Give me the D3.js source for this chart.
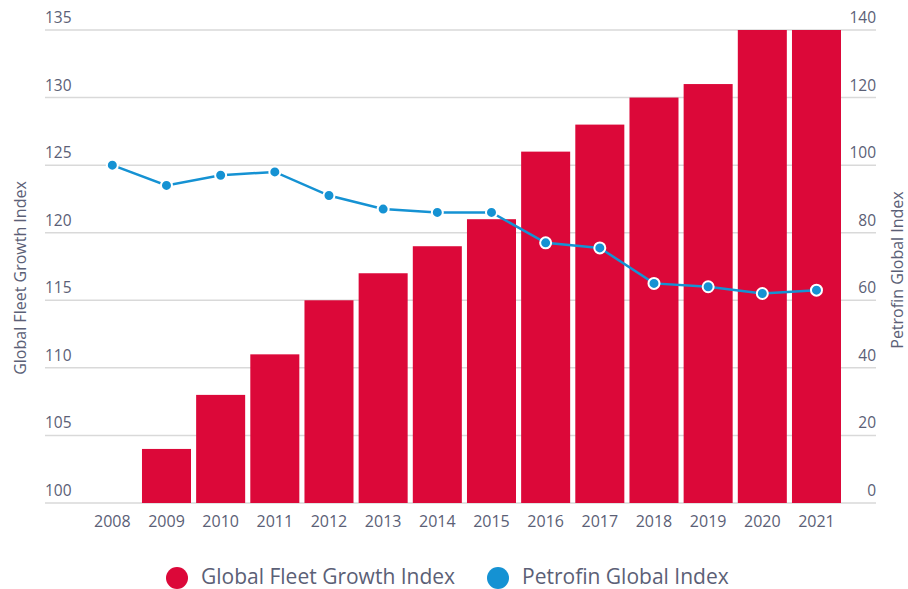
<!DOCTYPE html>
<html>
<head>
<meta charset="utf-8">
<script src="https://cdn.jsdelivr.net/npm/d3@7"></script>
<style>
  body { margin: 0; background: #fff; }
  text { font-family: "Open Sans", "Noto Sans", sans-serif; fill: #5b6076; }
</style>
</head>
<body>
<svg id="chart" width="908" height="589"></svg>
<script>
let years = ["2008","2009","2010","2011","2012","2013","2014","2015","2016","2017","2018","2019","2020","2021"]
let fleetGrowth = [100, 104, 108, 111, 115, 117, 119, 121, 126, 128, 130, 131, 135, 135]
let petrofin = [100, 94, 97, 98, 91, 87, 86, 86, 77, 75.5, 65, 64, 62, 63]
let leftTicks = [100, 105, 110, 115, 120, 125, 130, 135]
let rightTicks = [0, 20, 40, 60, 80, 100, 120, 140]

let red = "#dc0839"
let blue = "#1592d3"

let svg = d3.select("#chart")

let x = d3.scaleBand()
  .domain(years)
  .range([85.1, 843.7])
  .paddingInner(0.095)
  .paddingOuter(0.05)

let yL = d3.scaleLinear().domain([100, 135]).range([503, 30])
let yR = d3.scaleLinear().domain([0, 140]).range([503, 30])

// gridlines
svg.append("g").selectAll("line")
  .data(leftTicks)
  .enter().append("line")
  .attr("x1", 45).attr("x2", 876)
  .attr("y1", d => yL(d)).attr("y2", d => yL(d))
  .attr("stroke", "#d9d9d9").attr("stroke-width", 1.5)

// left tick labels
svg.append("g").selectAll("text")
  .data(leftTicks)
  .enter().append("text")
  .attr("x", 45).attr("y", d => yL(d) - 7)
  .attr("font-size", 15.5)
  .text(d => d)

// right tick labels
svg.append("g").selectAll("text")
  .data(rightTicks)
  .enter().append("text")
  .attr("x", 876).attr("y", d => yR(d) - 7)
  .attr("text-anchor", "end")
  .attr("font-size", 15.5)
  .text(d => d)

// bars
svg.append("g").selectAll("rect")
  .data(fleetGrowth)
  .enter().append("rect")
  .attr("x", (d, i) => x(years[i]))
  .attr("width", x.bandwidth())
  .attr("y", d => yL(d))
  .attr("height", d => yL(100) - yL(d))
  .attr("fill", red)

// x labels
svg.append("g").selectAll("text")
  .data(years)
  .enter().append("text")
  .attr("x", d => x(d) + x.bandwidth() / 2)
  .attr("y", 527)
  .attr("text-anchor", "middle")
  .attr("font-size", 16)
  .text(d => d)

// line
let line = d3.line()
  .x((d, i) => x(years[i]) + x.bandwidth() / 2)
  .y(d => yR(d))

svg.append("path")
  .datum(petrofin)
  .attr("d", line)
  .attr("fill", "none")
  .attr("stroke", blue)
  .attr("stroke-width", 2.5)

svg.append("g").selectAll("circle")
  .data(petrofin)
  .enter().append("circle")
  .attr("cx", (d, i) => x(years[i]) + x.bandwidth() / 2)
  .attr("cy", d => yR(d))
  .attr("r", 5.5)
  .attr("fill", blue)
  .attr("stroke", "#fff")
  .attr("stroke-width", 2)

// axis titles
svg.append("text")
  .attr("transform", "translate(26,278) rotate(-90)")
  .attr("text-anchor", "middle")
  .attr("font-size", 16)
  .text("Global Fleet Growth Index")

svg.append("text")
  .attr("transform", "translate(903,270) rotate(-90)")
  .attr("text-anchor", "middle")
  .attr("font-size", 16)
  .text("Petrofin Global Index")

// legend
let legend = [
  { name: "Global Fleet Growth Index", color: red, cx: 177 },
  { name: "Petrofin Global Index", color: blue, cx: 498 }
]
let lg = svg.append("g").selectAll("g")
  .data(legend)
  .enter().append("g")
lg.append("circle")
  .attr("cx", d => d.cx).attr("cy", 578).attr("r", 11)
  .attr("fill", d => d.color)
lg.append("text")
  .attr("x", d => d.cx + 24).attr("y", 584)
  .attr("font-size", 21)
  .text(d => d.name)
</script>
</body>
</html>
